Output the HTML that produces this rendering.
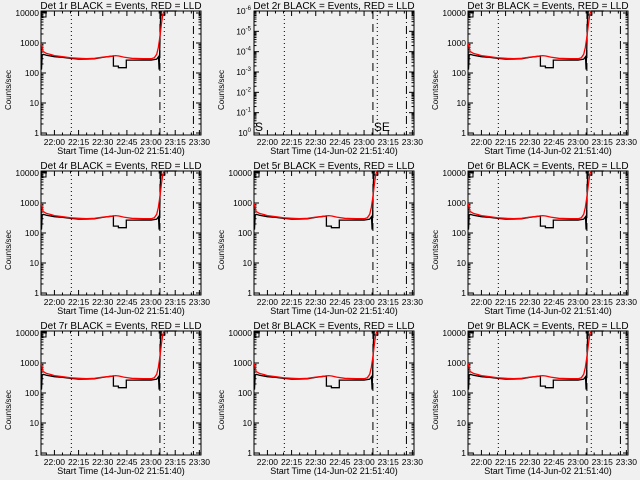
<!DOCTYPE html>
<html><head><meta charset="utf-8">
<style>
html,body{margin:0;padding:0;background:#f0f0f0;}
svg{display:block;font-family:"Liberation Sans",sans-serif;}
text{fill:#000;}
</style></head>
<body>
<svg id="chart" width="640" height="480" viewBox="0 0 640 480"></svg>
<script>
// Data (minutes relative to 22:00, counts/sec)
const detectorNames = ["1r","2r","3r","4r","5r","6r","7r","8r","9r"];
const redTimes  = [-8.3,-7,-5,-2,0,5,10,15,20,25,30,35,38,40,43,48,55,60,62,63.5,64.5,65.5,66.5,67.3,68];
const redValues = [1000,520,450,410,380,350,320,310,300,310,340,360,380,370,340,310,300,300,320,420,700,1600,4500,9000,13000];
const blackTimes  = [-8.3,-8,-7.6,-7,-5,0,5,10,15,20,25,30,35,36.6,36.6,39.7,39.7,44.6,44.6,50,60,63.5,64.6,65,65.4,65.8,66.2];
const blackValues = [1000,130,400,420,390,350,330,310,290,290,300,330,360,370,170,170,150,150,270,270,270,290,350,130,700,5000,13000];
const tickLabels = ["22:00","22:15","22:30","22:45","23:00","23:15","23:30"];
const tickMinutes = [0,15,30,45,60,75,90];
const yTickValues = [1,10,100,1000,10000];
const yTickLabels = ["1","10","100","1000","10000"];
const emptyYLabels = ["0","-1","-2","-3","-4","-5","-6"];
const vlineMinutes = [10.5,65.5,68.2,86.3];
const vlineDash = ["1,3","8,5","1,3","8,3,1,3"];

const NS="http://www.w3.org/2000/svg";
const svg=document.getElementById('chart');
const L=41,R=201,T=11,B=135,X0=-8.33,X1=91;
function el(tag,attrs,parent){const e=document.createElementNS(NS,tag);for(const k in attrs)e.setAttribute(k,attrs[k]);parent.appendChild(e);return e;}
function xs(m){return L+(m-X0)/(X1-X0)*(R-L);}
function ys(v){return 133-30*Math.log10(v);}

detectorNames.forEach((det,i)=>{
  const col=i%3,row=Math.floor(i/3);
  const g=el('g',{transform:`translate(${Math.round(col*213.3)},${row*160})`},svg);
  
  
  const empty = det==="2r";
  const title=el('text',{x:121,y:9,'font-size':10,'text-anchor':'middle'},g);
  title.textContent=`Det ${det} BLACK = Events, RED = LLD`;
  
  
  const box=el('rect',{x:L,y:T,width:R-L,height:B-T,fill:'none',stroke:'#000','stroke-width':1},g);
  
  
  // x ticks
  for(let m=-5;m<=90;m+=5){
    const x=xs(m); if(x<L||x>R)continue;
    const len=(m%15===0)?5:2.5;
    el('line',{x1:x,y1:B,x2:x,y2:B-len,stroke:'#000'},g);
    el('line',{x1:x,y1:T,x2:x,y2:T+len,stroke:'#000'},g);
  }
  tickMinutes.forEach((m,k)=>{
    const t=el('text',{x:xs(m),y:145,'font-size':8.5,'text-anchor':'middle'},g);
    t.textContent=tickLabels[k];
    
    
  });
  const xt=el('text',{x:121,y:154,'font-size':9,'text-anchor':'middle'},g);
  xt.textContent='Start Time (14-Jun-02 21:51:40)';
  
  
  const yt=el('text',{x:0,y:0,'font-size':8,'text-anchor':'middle',transform:'translate(11,90) rotate(-90)'},g);
  yt.textContent='Counts/sec';
  
  
  // y ticks
  if(!empty){
    yTickValues.forEach((v,k)=>{
      const y=ys(v);
      el('line',{x1:L,y1:y,x2:L+5,y2:y,stroke:'#000'},g);
      el('line',{x1:R,y1:y,x2:R-5,y2:y,stroke:'#000'},g);
      const t=el('text',{x:L-2,y:y+3,'font-size':8.5,'text-anchor':'end'},g);
      t.textContent=yTickLabels[k];
      
      
      if(k<yTickValues.length)for(let j=2;j<10;j++){const yy=ys(v*j);if(yy<T)continue;
        el('line',{x1:L,y1:yy,x2:L+2.5,y2:yy,stroke:'#000'},g);
        el('line',{x1:R,y1:yy,x2:R-2.5,y2:yy,stroke:'#000'},g);}
    });
  } else {
    emptyYLabels.forEach((lab,k)=>{
      const y=B-2-k*(B-T-2)/6;
      el('line',{x1:L,y1:y,x2:L+5,y2:y,stroke:'#000'},g);
      el('line',{x1:R,y1:y,x2:R-5,y2:y,stroke:'#000'},g);
      for(let j=1;j<9;j++){const yy=y-(B-T-2)/6*Math.log10(1+j);if(yy<T)continue;
        el('line',{x1:L,y1:yy,x2:L+2.5,y2:yy,stroke:'#000'},g);
        el('line',{x1:R,y1:yy,x2:R-2.5,y2:yy,stroke:'#000'},g);}
      const t=el('text',{x:L-3,y:y+3,'font-size':8.5,'text-anchor':'end'},g);
      t.innerHTML=`10<tspan dy="-4" font-size="6">${lab}</tspan>`;
      
      
    });
  }
  // vertical marker lines
  vlineMinutes.forEach((m,k)=>{
    const v=el('line',{x1:xs(m),y1:T,x2:xs(m),y2:B,stroke:'#000','stroke-dasharray':vlineDash[k]},g);
    
    
  });
  if(empty){
    const s=el('text',{x:L+1,y:B-4,'font-size':12},g); s.textContent='S';
     
    const se=el('text',{x:xs(65.5)+1,y:B-4,'font-size':12},g); se.textContent='SE';
     
    return;
  }
  const clip=(v)=>Math.max(T,ys(v));
  const bp=blackTimes.map((m,k)=>`${xs(m).toFixed(1)},${clip(blackValues[k]).toFixed(1)}`).join(' ');
  const bl=el('polyline',{points:bp,fill:'none',stroke:'#000','stroke-width':1.3},g);
  
  
  // step near top
  el('polyline',{points:`${xs(66.2)},${T} ${xs(66.2)},${T+4} ${xs(68.5)},${T+4} ${xs(68.5)},${T} ${xs(76)},${T}`,fill:'none',stroke:'#000','stroke-width':1.3},g);
  el('polyline',{points:`${L+1},${T+6} ${L+1},${T+1} ${L+5},${T+1} ${L+5},${T+6} ${L+1},${T+6}`,fill:'none',stroke:'#000'},g);
  const rp=redTimes.map((m,k)=>`${xs(m).toFixed(1)},${clip(redValues[k]).toFixed(1)}`).join(' ');
  const rl=el('polyline',{points:rp,fill:'none',stroke:'#ff0000','stroke-width':1.3},g);
  
  
});
</script>
</body></html>
